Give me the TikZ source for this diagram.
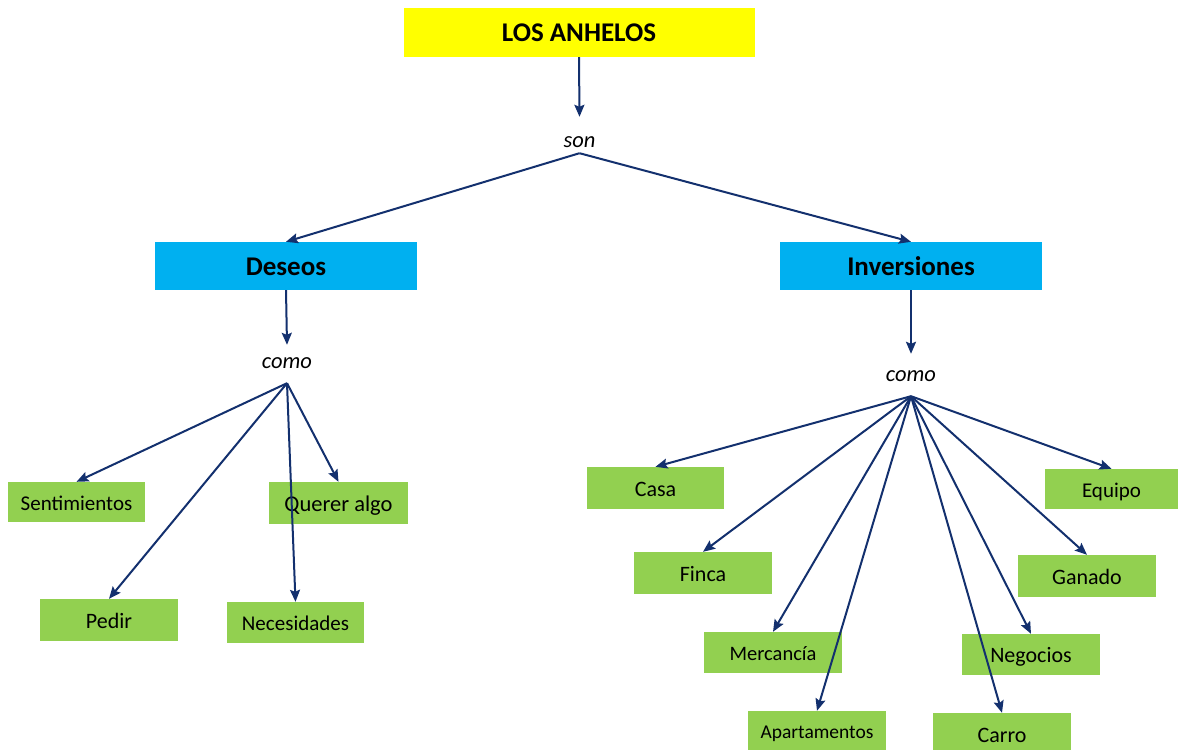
\documentclass[tikz,border=0pt]{standalone}
\usepackage{fontspec}
\setmainfont{Carlito}
\usetikzlibrary{arrows.meta}
\definecolor{ttlcol}{HTML}{FFFF00}
\definecolor{catcol}{HTML}{00B0F0}
\definecolor{leafcol}{HTML}{92D050}
\definecolor{arrcol}{HTML}{13306E}
\begin{document}
\begin{tikzpicture}[x=1pt,y=-1pt,
  box/.style={rectangle, inner sep=0pt, align=center, text=black},
  leafbox/.style={box, fill=leafcol, minimum width=138pt, minimum height=41pt,
    text height=18pt, text depth=2pt, font=\fontsize{22}{26}\selectfont},
  catbox/.style={box, fill=catcol, minimum width=262pt, minimum height=48pt,
    text height=21pt, text depth=2pt, font=\bfseries\fontsize{27}{32}\selectfont},
  titlebox/.style={box, fill=ttlcol, minimum width=351pt, minimum height=49pt,
    text height=21pt, text depth=4pt, font=\bfseries\fontsize{27}{32}\selectfont},
  lbl/.style={inner sep=0pt, anchor=base, font=\itshape\fontsize{22.5}{26}\selectfont},
  conn/.style={draw=arrcol, line width=2pt, -{Stealth[length=12pt,width=10pt,inset=2pt]}}
]
\useasboundingbox (0,0) rectangle (1178,750);
\fill[white] (0,0) rectangle (1178,750);

% top level
\node[titlebox] (title) at (579,32.5) {LOS ANHELOS};
\node[lbl, text height=30pt, text depth=6pt] (son) at (579.5,147) {son};
\node[catbox] (des) at (286,266) {Deseos};
\node[catbox] (inv) at (911,266) {Inversiones};
\node[lbl, text height=23pt, text depth=15pt] (comoL) at (287,368) {como};
\node[lbl, text height=27pt, text depth=15pt] (comoR) at (911,381) {como};

% left leaves
\node[leafbox, minimum width=137pt, minimum height=40pt, font=\fontsize{21}{25}\selectfont] (sent) at (76.5,502) {Sentimientos};
\node[leafbox, minimum height=42pt] (pedir) at (109,620) {Pedir};
\node[leafbox, minimum width=137pt, font=\fontsize{21}{25}\selectfont] (neces) at (295.5,622.5) {Necesidades};
\node[leafbox, minimum width=139pt, minimum height=42pt, font=\fontsize{22.5}{26}\selectfont] (querer) at (338.5,503) {Querer algo};

% right leaves
\node[leafbox, minimum width=137pt, minimum height=42pt] (casa) at (655.5,488) {Casa};
\node[leafbox, minimum height=42pt] (finca) at (703,573) {Finca};
\node[leafbox, font=\fontsize{20.5}{24}\selectfont] (merc) at (773,652.5) {Mercancía};
\node[leafbox, minimum height=39pt, font=\fontsize{19.5}{23}\selectfont] (apart) at (817,730.5) {Apartamentos};
\node[leafbox, minimum height=37pt, text height=21pt, text depth=0pt] (carro) at (1002,731.5) {Carro};
\node[leafbox] (negoc) at (1031,654.5) {Negocios};
\node[leafbox, minimum height=42pt] (ganado) at (1087,576) {Ganado};
\node[leafbox, minimum width=133pt, minimum height=40pt, font=\fontsize{21}{25}\selectfont] (equipo) at (1111.5,489) {Equipo};

% connectors
\draw[conn] (title.south) -- (son.north);
\draw[conn] (son.south) -- (des.north);
\draw[conn] (son.south) -- (inv.north);
\draw[conn] (des.south) -- (comoL.north);
\draw[conn] (inv.south) -- (comoR.north);

\foreach \t in {sent,pedir,neces,querer}
  \draw[conn] (comoL.south) -- (\t.north);
\foreach \t in {casa,finca,merc,apart,carro,negoc,ganado,equipo}
  \draw[conn] (comoR.south) -- (\t.north);
\end{tikzpicture}
\end{document}
